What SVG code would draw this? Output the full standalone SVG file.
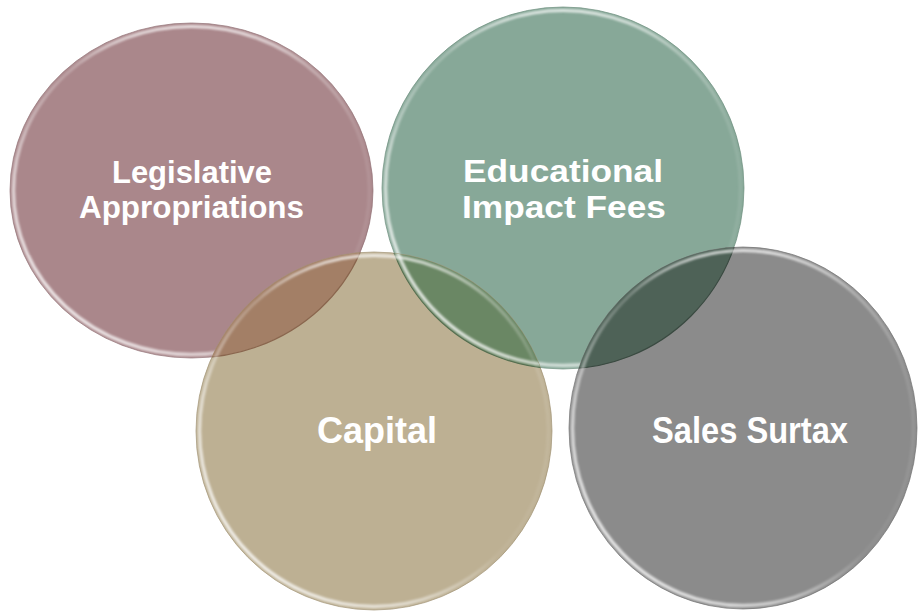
<svg xmlns="http://www.w3.org/2000/svg" xmlns:xlink="http://www.w3.org/1999/xlink" width="919" height="611" viewBox="0 0 919 611">
  <style>
    .lbl { fill: #ffffff; font-family: "Century Gothic", "URW Gothic", "Liberation Sans", Arial, sans-serif; font-weight: bold; text-anchor: middle; }
    .s32 { font-size: 32px; }
    .s36 { font-size: 36px; }
    .edge { stroke-width: 1; stroke-opacity: 0.7; }
    .rim { fill: none; stroke: url(#rimGrad); stroke-width: 3.5; filter: url(#soft); }
    .rimTop { fill: none; stroke: url(#rimTopGrad); stroke-width: 3; filter: url(#soft); }
  </style>
  <defs>
    <linearGradient id="rimGrad" x1="0" y1="1" x2="1" y2="0">
      <stop offset="0" stop-color="#ffffff" stop-opacity="0.95"/>
      <stop offset="0.3" stop-color="#ffffff" stop-opacity="0.55"/>
      <stop offset="0.5" stop-color="#ffffff" stop-opacity="0.05"/>
      <stop offset="0.8" stop-color="#ffffff" stop-opacity="0.1"/>
      <stop offset="1" stop-color="#ffffff" stop-opacity="0.3"/>
    </linearGradient>
    <linearGradient id="rimTopGrad" x1="0" y1="0" x2="0" y2="1">
      <stop offset="0" stop-color="#ffffff" stop-opacity="0.7"/>
      <stop offset="0.12" stop-color="#ffffff" stop-opacity="0.2"/>
      <stop offset="0.3" stop-color="#ffffff" stop-opacity="0"/>
      <stop offset="1" stop-color="#ffffff" stop-opacity="0"/>
    </linearGradient>
    <filter id="soft" x="-5%" y="-5%" width="110%" height="110%">
      <feGaussianBlur stdDeviation="0.8"/>
    </filter>
    <clipPath id="cp-tan"><ellipse cx="374" cy="431" rx="178" ry="179"/></clipPath>
    <clipPath id="cp-gray"><ellipse cx="743" cy="428" rx="174" ry="181"/></clipPath>
  </defs>

  <rect x="0" y="0" width="919" height="611" fill="#ffffff"/>

  <g id="node-legislative">
    <ellipse class="edge" cx="191.5" cy="190.5" rx="181.5" ry="167.5" fill="#AA878B" stroke="#8F6E72"/>
    <ellipse class="rim" cx="191.5" cy="190.5" rx="178" ry="164"/>
    <ellipse class="rimTop" cx="191.5" cy="190.5" rx="178" ry="164"/>
    <text class="lbl s32" x="192" y="183" textLength="160" lengthAdjust="spacingAndGlyphs">Legislative</text>
    <text class="lbl s32" x="191.5" y="218" textLength="225" lengthAdjust="spacingAndGlyphs">Appropriations</text>
  </g>

  <g id="node-educational">
    <ellipse class="edge" cx="563" cy="188" rx="181" ry="181" fill="#87A898" stroke="#6A8B7B"/>
    <ellipse id="rim-green" class="rim" cx="563" cy="188" rx="177.5" ry="177.5"/>
    <ellipse class="rimTop" cx="563" cy="188" rx="177.5" ry="177.5"/>
    <text class="lbl s32" x="563" y="182" textLength="200" lengthAdjust="spacingAndGlyphs">Educational</text>
    <text class="lbl s32" x="564" y="218" textLength="204" lengthAdjust="spacingAndGlyphs">Impact Fees</text>
  </g>

  <g id="node-capital">
    <ellipse class="edge" cx="374" cy="431" rx="178" ry="179" fill="#BDB093" stroke="#A09274"/>
    <g clip-path="url(#cp-tan)">
      <ellipse cx="191.5" cy="190.5" rx="181.5" ry="167.5" fill="#A37F66" stroke="#8A664E" stroke-width="1.2"/>
      <ellipse cx="563" cy="188" rx="181" ry="181" fill="#6A8764" stroke="#4F6A4A" stroke-width="1.2"/>
      <use xlink:href="#rim-green"/>
    </g>
    <ellipse class="rim" cx="374" cy="431" rx="174.5" ry="175.5"/>
    <ellipse class="rimTop" cx="374" cy="431" rx="174.5" ry="175.5"/>
    <text class="lbl s36" x="377" y="443" textLength="120" lengthAdjust="spacingAndGlyphs">Capital</text>
  </g>

  <g id="node-sales">
    <ellipse class="edge" cx="743" cy="428" rx="174" ry="181" fill="#8B8B8B" stroke="#6E6E6E"/>
    <g clip-path="url(#cp-gray)">
      <ellipse cx="563" cy="188" rx="181" ry="181" fill="#4E6257" stroke="#3A4A41" stroke-width="1.2"/>
    </g>
    <ellipse class="rim" cx="743" cy="428" rx="170.5" ry="177.5"/>
    <ellipse class="rimTop" cx="743" cy="428" rx="170.5" ry="177.5"/>
    <text class="lbl s36" x="750" y="443" textLength="196" lengthAdjust="spacingAndGlyphs">Sales Surtax</text>
  </g>

  <g id="connectors"></g>
</svg>
